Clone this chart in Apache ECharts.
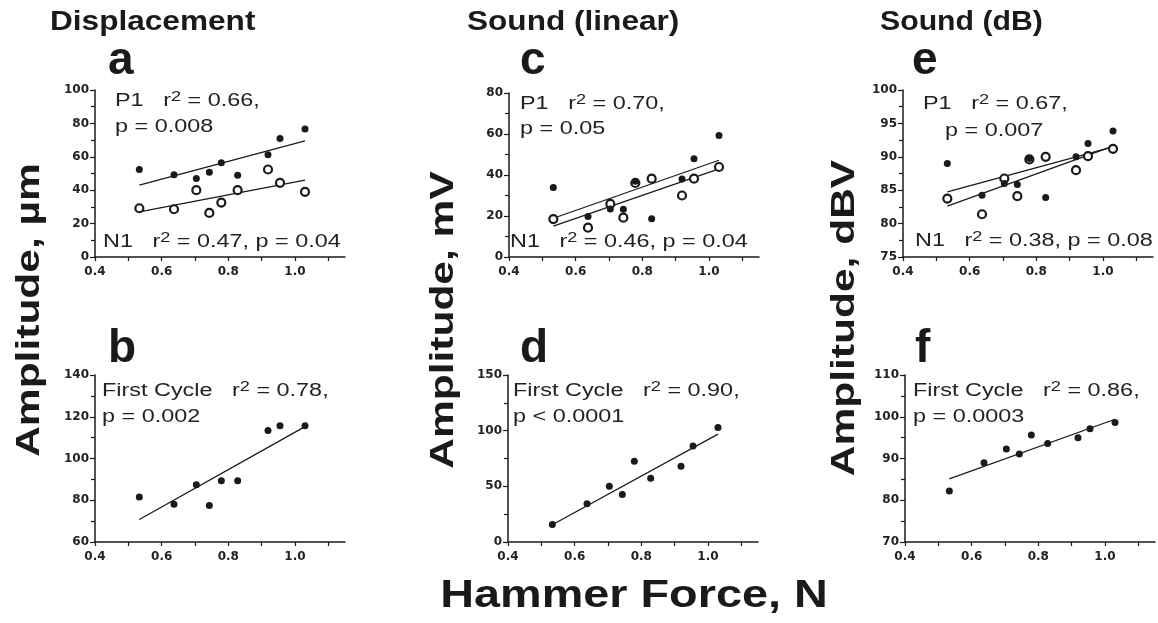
<!DOCTYPE html>
<html><head><meta charset="utf-8">
<script src="https://cdn.jsdelivr.net/npm/echarts@6/dist/echarts.min.js"></script>
<style>html,body{margin:0;padding:0;background:#fff}#c{width:1158px;height:623px}</style>
</head><body><div id="c"></div>
<script>
// ---- data ----
const X = [0.533, 0.637, 0.704, 0.743, 0.779, 0.828, 0.919, 0.955, 1.030];
const dispP1 = [52.4, 49.2, 47.0, 50.8, 56.4, 49.0, 61.2, 71.0, 76.6];
const dispN1 = [29.2, 28.6, 40.0, 26.4, 32.6, 40.0, 52.4, 44.4, 39.0];
const dispFirst = [81.6, 78.1, 87.4, 77.5, 89.4, 89.3, 113.4, 115.7, 115.7];
const linP1 = [33.9, 19.7, 23.4, 23.3, 36.9, 18.7, 38.0, 47.9, 59.3];
const linN1 = [18.5, 14.3, 25.9, 19.2, 36.1, 38.2, 30.0, 38.2, 43.9];
const linFirst = [15.8, 34.3, 50.1, 42.6, 72.5, 57.3, 68.0, 86.2, 102.9];
const dbP1 = [89.0, 84.25, 86.0, 85.85, 89.75, 83.9, 90.0, 92.0, 93.85];
const dbN1 = [83.75, 81.4, 86.75, 84.1, 89.6, 90.0, 88.0, 90.1, 91.2];
const dbFirst = [82.2, 89.0, 92.3, 91.1, 95.6, 93.6, 95.0, 97.1, 98.6];
// fitted regression lines (end points)
const fitX = [0.533, 1.030];
const dispP1Fit = [43.0, 69.6], dispN1Fit = [27.0, 46.0], dispFirstFit = [70.8, 115.3];
const linP1Fit = [18.9, 47.2], linN1Fit = [15.1, 43.0], linFirstFit = [15.5, 96.9];
const dbP1Fit = [82.6, 91.6], dbN1Fit = [84.75, 91.5], dbFirstFit = [85.1, 99.4];
// axes
const xTicks = [0.4, 0.5, 0.6, 0.7, 0.8, 0.9, 1.0, 1.1];
const xLabels = [0.4, 0.6, 0.8, 1.0];
const yRanges = [[0,100,20],[60,140,20],[0,80,20],[0,150,50],[75,100,5],[70,110,10]];
// texts
const colTitles = ['Displacement', 'Sound (linear)', 'Sound (dB)'];
const panelLetters = ['a','b','c','d','e','f'];
const yTitles = ['Amplitude, \u00b5m', 'Amplitude, mV', 'Amplitude, dBV'];
const xTitle = 'Hammer Force, N';

// ---- layout ----
const grids = [
  {left:95, top:90, width:250, height:167},
  {left:95, top:375, width:250, height:167},
  {left:509, top:93, width:250, height:164},
  {left:508, top:375, width:250, height:167},
  {left:903, top:90, width:250, height:167},
  {left:905, top:375, width:250, height:167}
];
const INK = '#1a1a1a';
const pair = (xs, ys) => xs.map((x, i) => [x, ys[i]]);

const xAxes = grids.map((g, i) => ({
  type:'value', gridIndex:i, min:0.4, max:1.15,
  axisLine:{lineStyle:{color:INK, width:1.5}},
  axisTick:{show:true, length:4, lineStyle:{color:INK, width:1.2}, customValues:xTicks},
  axisLabel:{customValues:xLabels, formatter:v => v.toFixed(1), fontFamily:'DejaVu Sans', fontWeight:'bold', fontSize:12, color:'#222', margin:9},
  splitLine:{show:false}
}));
const yAxes = grids.map((g, i) => ({
  type:'value', gridIndex:i, min:yRanges[i][0], max:yRanges[i][1], interval:yRanges[i][2],
  axisLine:{show:true, lineStyle:{color:INK, width:1.5}},
  axisTick:{show:true, length:5, lineStyle:{color:INK, width:1.2}},
  minorTick:{show:true, splitNumber:2, length:4, lineStyle:{color:INK, width:1.2}},
  axisLabel:{fontFamily:'DejaVu Sans', fontWeight:'bold', fontSize:12, color:'#222', margin:6},
  splitLine:{show:false}
}));

function line(i, ys) {
  return {type:'line', xAxisIndex:i, yAxisIndex:i, data:pair(fitX, ys), showSymbol:false, symbol:'none',
    lineStyle:{color:INK, width:1.3}, silent:true, z:1};
}
function filled(i, ys) {
  return {type:'scatter', xAxisIndex:i, yAxisIndex:i, data:pair(X, ys), symbol:'circle', symbolSize:7,
    itemStyle:{color:INK, opacity:1}, z:3};
}
function open(i, ys) {
  return {type:'scatter', xAxisIndex:i, yAxisIndex:i, data:pair(X, ys), symbol:'circle', symbolSize:8,
    itemStyle:{color:'#fff', borderColor:INK, borderWidth:2.2, opacity:1}, z:2};
}

const series = [
  line(0, dispP1Fit), line(0, dispN1Fit), open(0, dispN1), filled(0, dispP1),
  line(1, dispFirstFit), filled(1, dispFirst),
  line(2, linP1Fit), line(2, linN1Fit), filled(2, linP1), open(2, linN1),
  line(3, linFirstFit), filled(3, linFirst),
  line(4, dbP1Fit), line(4, dbN1Fit), filled(4, dbP1), open(4, dbN1),
  line(5, dbFirstFit), filled(5, dbFirst)
];

// ---- text graphics ----
const SX = 1.3;
// y given as baseline; text placed from its top (top = baseline - 0.85*size)
function bigText(txt, x, base, size, sx) {
  return {type:'text', x:x, y:base - Math.round(0.85 * size), scaleX:sx, z:10,
    style:{text:txt, fill:'#1a1a1a', font:'bold ' + size + 'px "Liberation Sans", Arial, sans-serif',
      textAlign:'left', textVerticalAlign:'top'}};
}
function annot(pre, post, x, yTop) {
  return {type:'text', x:x, y:yTop - 1, scaleX:SX, z:10,
    style:{text:'{t|' + pre + '}' + (post !== null ? '{s|2}{t|' + post + '}' : ''),
      textAlign:'left', textVerticalAlign:'top',
      rich:{
        t:{fontSize:18, fontFamily:'"Liberation Sans", Arial, sans-serif', fill:'#222', lineHeight:22},
        s:{fontSize:14, fontFamily:'"Liberation Sans", Arial, sans-serif', fill:'#222', lineHeight:14, verticalAlign:'top'}
      }}};
}
function plain(txt, x, yTop) { return annot(txt, null, x, yTop); }

const graphics = [
  bigText(colTitles[0], 50, 32, 27, 1.17),
  bigText(colTitles[1], 467, 32, 27, 1.17),
  bigText(colTitles[2], 880, 32, 27, 1.12),
  bigText(panelLetters[0], 108, 77, 46, 1.0),
  bigText(panelLetters[1], 108, 365, 46, 1.0),
  bigText(panelLetters[2], 520, 77, 46, 1.0),
  bigText(panelLetters[3], 520, 365, 46, 1.0),
  bigText(panelLetters[4], 912, 77, 46, 1.0),
  bigText(panelLetters[5], 915, 365, 46, 1.0),
  {type:'text', x:634, y:610 - 33, scaleX:1.2, z:10,
    style:{text:xTitle, fill:'#1a1a1a', font:'bold 39px "Liberation Sans", Arial, sans-serif', textAlign:'center', textVerticalAlign:'top'}},
  // annotations
  annot('P1   r', ' = 0.66,', 115, 91),
  plain('p = 0.008', 115, 117),
  annot('N1   r', ' = 0.47, p = 0.04', 103, 232),
  annot('First Cycle   r', ' = 0.78,', 102, 381),
  plain('p = 0.002', 102, 407),
  annot('P1   r', ' = 0.70,', 520, 94),
  plain('p = 0.05', 520, 119),
  annot('N1   r', ' = 0.46, p = 0.04', 510, 232),
  annot('First Cycle   r', ' = 0.90,', 513, 381),
  plain('p < 0.0001', 513, 407),
  annot('P1   r', ' = 0.67,', 923, 94),
  plain('p = 0.007', 945, 121),
  annot('N1   r', ' = 0.38, p = 0.08', 915, 231),
  annot('First Cycle   r', ' = 0.86,', 913, 381),
  plain('p = 0.0003', 913, 407)
];
// y-axis titles (rotated)
[[30, 310], [444, 320], [845, 318]].forEach((p, i) => {
  graphics.push({type:'text', x:p[0], y:p[1], rotation:Math.PI/2, scaleX:1.25, z:10,
    style:{text:yTitles[i], fill:'#1a1a1a', font:'bold 34px "Liberation Sans", Arial, sans-serif',
      textAlign:'center', textVerticalAlign:'middle'}});
});

const chart = echarts.init(document.getElementById('c'), null, {renderer:'canvas'});
chart.setOption({
  animation:false,
  backgroundColor:'#fff',
  grid:grids,
  xAxis:xAxes,
  yAxis:yAxes,
  series:series,
  graphic:{elements:graphics}
});
</script></body></html>
